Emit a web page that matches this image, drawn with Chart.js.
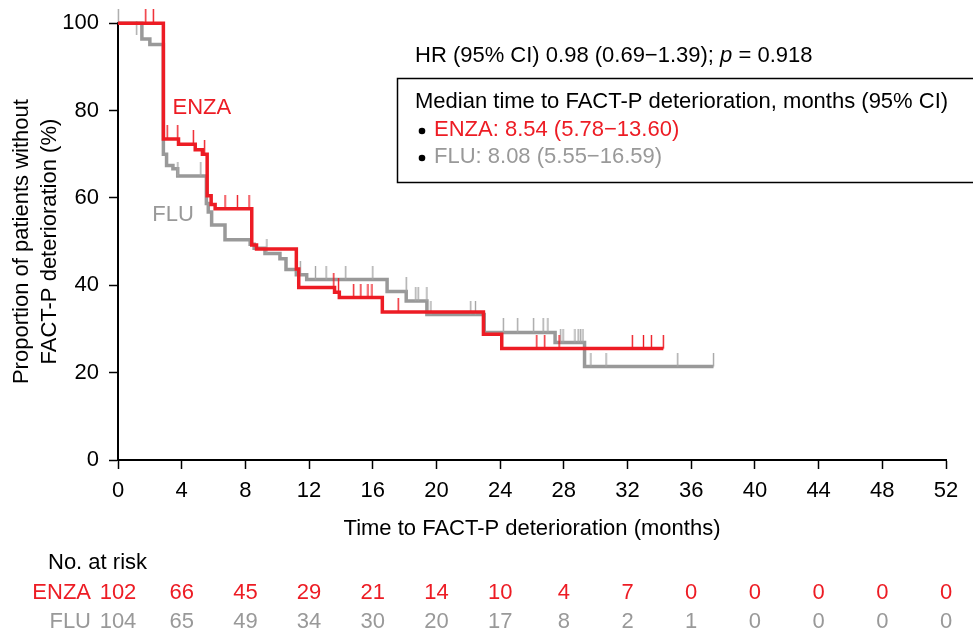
<!DOCTYPE html>
<html lang="en">
<head>
<meta charset="UTF-8">
<title>FACT-P deterioration</title>
<script src="https://cdn.jsdelivr.net/npm/chart.js"></script>
<style>
  html, body { margin: 0; padding: 0; background: #fff; }
  #wrap { width: 973px; height: 636px; }
</style>
</head>
<body>
<div id="wrap"><canvas id="chart" width="973" height="636"></canvas></div>
<script>
// Kaplan-Meier steps (time in months, % without deterioration)
const enzaTime = [0, 2.85, 3.8, 4.85, 5.3, 5.6, 5.85, 6.1, 8.4, 8.7, 11.2, 11.35, 13.6, 13.9, 16.6, 22.95, 24.1, 34.25];
const enzaSurv = [100, 73.5, 72.3, 71, 70, 60.5, 58.5, 57.5, 49.2, 48.3, 43.7, 39.5, 38.4, 37.2, 33.9, 28.8, 25.5, 25.5];
const fluTime = [0, 1.5, 2.0, 2.85, 3.05, 3.45, 3.75, 5.55, 5.67, 5.88, 6.72, 8.3, 8.55, 9.23, 10.17, 10.55, 11.2, 11.85, 16.9, 18.1, 19.4, 23.0, 27.45, 29.3, 37.4];
const fluSurv = [100, 96.4, 95.1, 70, 67.4, 66.7, 65, 58.7, 56.8, 53.8, 50.4, 49.4, 48.5, 47.3, 46.1, 43.6, 42.4, 41.3, 38.6, 36.4, 33.3, 29.2, 26.9, 21.4, 21.4];

// censoring marks
const enzaCensTime = [1.74, 2.22, 3.09, 3.75, 4.73, 5.44, 6.72, 7.5, 8.23, 13.55, 13.85, 14.8, 15.25, 15.7, 15.95, 17.6, 26.3, 26.8, 27.7, 32.3, 33.0, 33.5, 34.25];
const enzaCensSurv = [100, 100, 73.5, 73.5, 72.3, 70, 57.5, 57.5, 57.5, 39.5, 38.4, 37.2, 37.2, 37.2, 37.2, 33.9, 25.5, 25.5, 25.5, 25.5, 25.5, 25.5, 25.5];
const fluCensTime = [0.02, 1.17, 3.76, 5.2, 9.35, 11.45, 12.4, 13.07, 14.3, 16.0, 18.1, 18.7, 18.85, 19.4, 19.65, 22.15, 22.45, 24.2, 25.1, 26.1, 26.7, 27.0, 27.8, 27.95, 28.7, 28.9, 29.05, 29.2, 29.7, 30.65, 35.15, 37.4];
const fluCensSurv = [100, 97.3, 65, 65, 47.3, 42.4, 41.3, 41.3, 41.3, 41.3, 38.6, 36.4, 36.4, 36.4, 33.3, 33.3, 33.3, 29.2, 29.2, 29.2, 29.2, 29.2, 26.9, 26.9, 26.9, 26.9, 26.9, 26.9, 21.4, 21.4, 21.4, 21.4];

// numbers at risk
const riskTimes = [0, 4, 8, 12, 16, 20, 24, 28, 32, 36, 40, 44, 48, 52];
const enzaRisk = [102, 66, 45, 29, 21, 14, 10, 4, 7, 0, 0, 0, 0, 0];
const fluRisk = [104, 65, 49, 34, 30, 20, 17, 8, 2, 1, 0, 0, 0, 0];

const RED = '#ed1c24';
const GREY = '#999999';
const FONT = 'Liberation Sans, Arial, Helvetica, sans-serif';
const FS = 22;

function pts(xs, ys) { return xs.map((x, i) => ({ x: x, y: ys[i] })); }

// vertical tick drawn upwards from the point
function censorMark(color) {
    const c = document.createElement('canvas');
    c.width = 3; c.height = 28;
    const g = c.getContext('2d');
    g.strokeStyle = color;
    g.lineWidth = 1.4;
    g.beginPath();
    g.moveTo(1.5, 0);
    g.lineTo(1.5, 14);
    g.stroke();
    return c;
}

function dot(ctx, x, y) {
    ctx.beginPath();
    ctx.arc(x, y, 3.3, 0, Math.PI * 2);
    ctx.fillStyle = '#000';
    ctx.fill();
}

const textPlugin = {
    id: 'texts',
    afterDraw(chart) {
        const ctx = chart.ctx;
        const xs = chart.scales.x, ys = chart.scales.y;
        ctx.save();
        ctx.textBaseline = 'middle';
        ctx.font = FS + 'px ' + FONT;

        // HR line
        ctx.fillStyle = '#000';
        ctx.textAlign = 'left';
        let x0 = 415;
        const part1 = 'HR (95% CI) 0.98 (0.69\u22121.39); ';
        ctx.fillText(part1, x0, 56);
        x0 += ctx.measureText(part1).width;
        ctx.font = 'italic ' + FS + 'px ' + FONT;
        ctx.fillText('p', x0, 56);
        x0 += ctx.measureText('p').width;
        ctx.font = FS + 'px ' + FONT;
        ctx.fillText(' = 0.918', x0, 56);

        // median box
        ctx.strokeStyle = '#000';
        ctx.lineWidth = 1.5;
        ctx.strokeRect(397.5, 78.5, 600, 104);
        ctx.fillText('Median time to FACT-P deterioration, months (95% CI)', 415, 102);
        dot(ctx, 422, 131);
        dot(ctx, 422, 158);
        ctx.fillStyle = RED;
        ctx.fillText('ENZA: 8.54 (5.78\u221213.60)', 434, 130);
        ctx.fillStyle = GREY;
        ctx.fillText('FLU: 8.08 (5.55\u221216.59)', 434, 157);

        // curve labels
        ctx.fillStyle = RED;
        ctx.fillText('ENZA', xs.getPixelForValue(3.42), ys.getPixelForValue(80.5));
        ctx.fillStyle = GREY;
        ctx.fillText('FLU', xs.getPixelForValue(2.15), ys.getPixelForValue(56));

        // at risk table
        ctx.fillStyle = '#000';
        ctx.fillText('No. at risk', 48, 563);
        ctx.textAlign = 'right';
        ctx.fillStyle = RED;
        ctx.fillText('ENZA', 91, 593);
        ctx.fillStyle = GREY;
        ctx.fillText('FLU', 91, 622);
        ctx.textAlign = 'center';
        riskTimes.forEach((t, i) => {
            const px = xs.getPixelForValue(t);
            ctx.fillStyle = RED;
            ctx.fillText(String(enzaRisk[i]), px, 593);
            ctx.fillStyle = GREY;
            ctx.fillText(String(fluRisk[i]), px, 622);
        });
        ctx.restore();
    }
};

Chart.defaults.font.family = FONT;
Chart.defaults.color = '#000';

new Chart(document.getElementById('chart'), {
    type: 'line',
    data: {
        datasets: [
            {
                label: 'ENZA censored',
                data: pts(enzaCensTime, enzaCensSurv),
                showLine: false,
                pointStyle: censorMark(RED),
                pointRadius: 10,
                clip: false,
                order: 1
            },
            {
                label: 'ENZA',
                data: pts(enzaTime, enzaSurv),
                stepped: 'before',
                borderColor: RED,
                borderWidth: 3.5,
                pointRadius: 0,
                clip: false,
                order: 2
            },
            {
                label: 'FLU censored',
                data: pts(fluCensTime, fluCensSurv),
                showLine: false,
                pointStyle: censorMark('#a6a6a6'),
                pointRadius: 10,
                clip: false,
                order: 3
            },
            {
                label: 'FLU',
                data: pts(fluTime, fluSurv),
                stepped: 'before',
                borderColor: GREY,
                borderWidth: 3.5,
                pointRadius: 0,
                clip: false,
                order: 4
            }
        ]
    },
    options: {
        responsive: false,
        animation: false,
        layout: { padding: { top: 20, right: 27, left: 0, bottom: 0 } },
        plugins: { legend: { display: false }, tooltip: { enabled: false } },
        scales: {
            x: {
                type: 'linear',
                min: 0, max: 52,
                afterFit: s => { s.height = 176; },
                ticks: { stepSize: 4, font: { size: FS }, color: '#000', padding: 9, maxRotation: 0 },
                grid: { drawOnChartArea: false, drawTicks: true, tickLength: 9, tickColor: '#000', tickWidth: 1.5 },
                border: { color: '#000', width: 2 },
                title: { display: true, text: 'Time to FACT-P deterioration (months)', font: { size: FS }, color: '#000', padding: { bottom: 94 } }
            },
            y: {
                min: 0, max: 100,
                afterFit: s => { s.width = 118; },
                ticks: { stepSize: 20, font: { size: FS }, color: '#000', padding: 10 },
                grid: { drawOnChartArea: false, drawTicks: true, tickLength: 9, tickColor: '#000', tickWidth: 1.5 },
                border: { color: '#000', width: 2 },
                title: {
                    display: true,
                    text: ['Proportion of patients without', 'FACT-P deterioration (%)'],
                    font: { size: FS, lineHeight: 1.27 },
                    color: '#000',
                    padding: { top: 8 }
                }
            }
        }
    },
    plugins: [textPlugin]
});
</script>
</body>
</html>
